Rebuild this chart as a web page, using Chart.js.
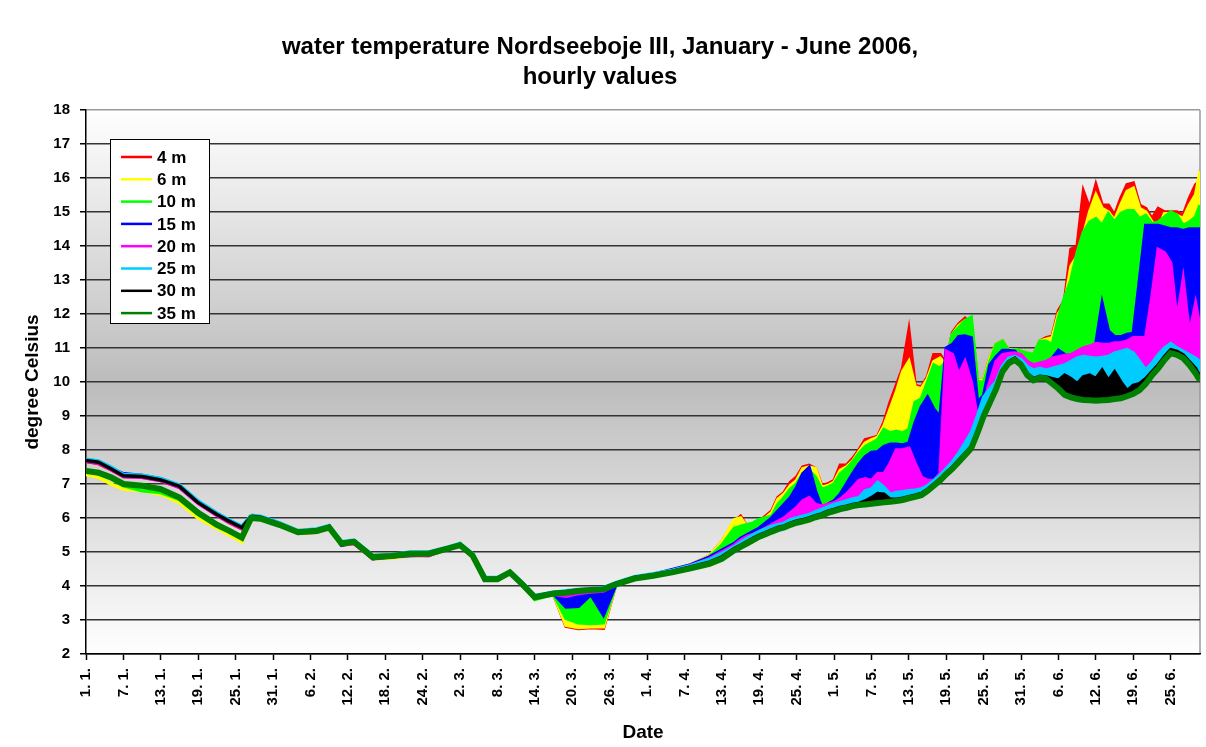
<!DOCTYPE html>
<html lang="en">
<head>
    <meta charset="UTF-8">
    <title>water temperature Nordseeboje III</title>
    <script src="https://cdn.jsdelivr.net/npm/chart.js"></script>
    <style>
        body { margin: 0; background: #fff; }
        #wrap { width: 1206px; height: 747px; position: relative; }
    </style>
</head>
<body>
    <div id="wrap"><canvas id="tempChart"></canvas></div>

    <script>
        // days since 1 January 2006 (sample positions)
        var days = [0, 2, 4, 6, 9, 12, 15, 18, 21, 23, 25, 26.5, 28, 31, 34, 37, 39, 41, 43, 46, 49, 52, 55, 58, 60,
            62, 64, 66, 68, 70, 72, 75, 77, 79, 81, 83, 85, 88, 91, 94, 97, 100, 102,
            104, 105, 106, 107, 108, 109, 110, 111, 112, 113,
            114, 115, 116, 117, 118, 119, 120, 121, 122, 123,
            124, 125, 126, 127, 128, 129, 130, 131, 132, 133,
            134, 135, 136, 137, 138, 139, 140, 141, 142, 143,
            144, 145, 146, 147, 148, 149, 150, 151, 152, 153,
            154, 155, 156, 157, 158, 159, 160, 161, 162, 163,
            164, 165, 166, 167, 168, 169, 170, 171, 172, 173,
            174, 175, 176, 177, 178, 178.7];

        // temperature per depth (upper envelope of the hourly values)
        var t4 = [7.66, 7.6, 7.42, 7.22, 7.2, 7.1, 6.9, 6.44, 6.08, 5.86, 5.68, 6.02, 5.99, 5.8, 5.56, 5.58, 5.7, 5.2, 5.25, 4.8, 4.84, 4.9, 4.9, 5.1, 5.2,
            4.88, 4.2, 4.2, 4.4, 4.05, 3.66, 3.76, 2.82, 2.75, 2.78, 2.76, 4.05, 4.22, 4.32, 4.45, 4.62, 4.88, 5.3,
            5.9, 6.05, 5.75, 5.75, 5.9, 6.05, 6.2, 6.6, 6.75, 7.05,
            7.2, 7.5, 7.55, 7.45, 6.95, 7.0, 7.1, 7.55, 7.55, 7.75,
            8.0, 8.3, 8.35, 8.4, 8.8, 9.4, 9.9, 10.4, 11.5, 9.9,
            9.85, 10.15, 10.8, 10.8, 10.5, 11.45, 11.7, 11.87, 11.7, 10.05,
            10.05, 10.7, 11.1, 11.2, 10.95, 10.95, 10.9, 10.85, 10.8, 11.2,
            11.3, 11.35, 12.1, 12.4, 13.9, 14.0, 15.6, 15.1, 15.8, 15.2,
            15.2, 14.9, 15.4, 15.8, 15.85, 15.2, 15.1, 14.8, 15.1, 15.0,
            15.0, 15.0, 14.9, 15.4, 15.8, 15.9];
        var t6 = [7.28, 7.2, 7.0, 6.85, 6.8, 6.7, 6.45, 6.0, 5.7, 5.5, 5.3, 5.96, 5.96, 5.78, 5.55, 5.58, 5.68, 5.2, 5.25, 4.8, 4.82, 4.9, 4.92, 5.1, 5.22,
            4.88, 4.2, 4.2, 4.4, 4.05, 3.65, 3.76, 2.85, 2.78, 2.8, 2.8, 4.05, 4.22, 4.32, 4.45, 4.62, 4.88, 5.3,
            5.95, 6.0, 5.75, 5.7, 5.9, 6.0, 6.15, 6.55, 6.7, 6.95,
            7.1, 7.45, 7.5, 7.45, 6.9, 6.95, 7.05, 7.4, 7.5, 7.68,
            7.95, 8.2, 8.3, 8.37, 8.7, 9.2, 9.7, 10.3, 10.6, 9.85,
            9.8, 10.1, 10.6, 10.7, 10.5, 11.4, 11.65, 11.8, 11.7, 10.05,
            10.05, 10.7, 11.1, 11.2, 10.95, 10.95, 10.9, 10.85, 10.8, 11.2,
            11.25, 11.3, 12.0, 12.3, 13.4, 13.7, 14.3, 15.0, 15.5, 15.1,
            15.0, 14.75, 15.2, 15.6, 15.7, 15.1, 15.0, 14.7, 14.5, 14.95,
            14.95, 14.9, 14.8, 15.2, 15.5, 16.2];
        var t10 = [7.4, 7.3, 7.15, 6.95, 6.8, 6.75, 6.55, 6.1, 5.78, 5.6, 5.4, 5.98, 5.97, 5.79, 5.57, 5.6, 5.7, 5.22, 5.28, 4.82, 4.85, 4.92, 4.93, 5.1, 5.25,
            4.9, 4.2, 4.2, 4.4, 4.05, 3.6, 3.76, 3.05, 2.92, 2.9, 2.92, 4.05, 4.22, 4.32, 4.45, 4.6, 4.85, 5.2,
            5.7, 5.75, 5.8, 5.85, 5.95, 6.0, 6.05, 6.4, 6.6, 6.85,
            7.0, 7.3, 7.4, 7.2, 6.85, 6.9, 7.0, 7.3, 7.45, 7.65,
            7.9, 8.1, 8.2, 8.3, 8.6, 8.5, 8.55, 8.5, 8.6, 9.4,
            9.5, 10.0, 10.5, 10.4, 10.6, 11.4, 11.6, 11.8, 11.9, 10.0,
            10.0, 10.6, 11.1, 11.2, 10.93, 10.95, 10.9, 10.85, 10.8, 11.2,
            11.2, 11.1, 11.9, 12.5, 13.0, 13.8, 14.4, 14.7, 14.8, 14.6,
            14.94, 14.7, 14.95, 15.04, 15.04, 14.8, 14.9, 14.65, 14.7, 14.85,
            15.0, 14.9, 14.6, 14.7, 14.85, 15.2];
        var t15 = [7.68, 7.63, 7.46, 7.3, 7.25, 7.15, 6.95, 6.47, 6.12, 5.9, 5.72, 6.04, 6.01, 5.81, 5.6, 5.62, 5.74, 5.2, 5.28, 4.8, 4.86, 4.9, 4.92, 5.1, 5.2,
            4.9, 4.2, 4.2, 4.4, 4.05, 3.68, 3.78, 3.38, 3.4, 3.75, 3.15, 4.05, 4.24, 4.34, 4.48, 4.62, 4.85, 5.05,
            5.25, 5.4, 5.5, 5.6, 5.7, 5.85, 6.0, 6.2, 6.4, 6.6,
            6.9, 7.3, 7.48, 6.8, 6.3, 6.4, 6.5, 6.7, 7.0, 7.3,
            7.58, 7.8, 7.93, 7.95, 8.1, 8.17, 8.17, 8.15, 8.2, 8.8,
            9.26, 9.55, 9.2, 8.96, 11.0, 11.1, 11.33, 11.35, 11.3, 9.4,
            9.6, 10.5, 10.74, 10.93, 10.93, 10.9, 10.6, 10.4, 10.35, 10.38,
            10.4, 10.7, 10.93, 10.8, 10.74, 10.8, 10.9, 11.0, 11.13, 12.3,
            11.5, 11.33, 11.33, 11.4, 11.43, 13.0, 14.6, 14.6, 14.6, 14.55,
            14.5, 14.5, 14.45, 14.5, 14.5, 14.5];
        var t20 = [7.67, 7.62, 7.43, 7.22, 7.2, 7.1, 6.9, 6.43, 6.08, 5.88, 5.7, 6.03, 6.0, 5.8, 5.58, 5.6, 5.72, 5.22, 5.25, 4.82, 4.85, 4.92, 4.9, 5.1, 5.18,
            4.88, 4.2, 4.2, 4.38, 4.03, 3.66, 3.76, 3.7, 3.78, 3.82, 3.85, 4.05, 4.23, 4.32, 4.45, 4.6, 4.8, 5.0,
            5.2, 5.35, 5.45, 5.52, 5.6, 5.7, 5.8, 5.9, 6.0, 6.15,
            6.3, 6.5, 6.6, 6.4, 6.35, 6.4, 6.45, 6.55, 6.7, 6.9,
            7.1, 7.15, 7.1, 7.3, 7.3, 7.6, 8.0, 8.0, 8.05, 7.6,
            7.2, 7.1, 7.1, 7.3, 10.9, 10.8, 10.2, 10.6, 10.0, 8.9,
            9.4, 10.0, 10.6, 10.8, 10.84, 10.85, 10.8, 10.6, 10.5, 10.55,
            10.6, 10.7, 10.74, 10.78, 10.8, 10.9, 11.0, 11.05, 11.13, 11.1,
            11.1, 11.15, 11.15, 11.2, 11.3, 11.3, 11.3, 12.5, 13.9, 13.8,
            13.5, 11.8, 13.0, 11.4, 12.3, 11.6];
        var t25 = [7.73, 7.68, 7.5, 7.28, 7.26, 7.16, 6.97, 6.5, 6.15, 5.94, 5.76, 6.08, 6.05, 5.86, 5.63, 5.68, 5.78, 5.3, 5.35, 4.9, 4.93, 5.0, 5.0, 5.14, 5.25,
            4.95, 4.25, 4.25, 4.44, 4.1, 3.72, 3.82, 3.86, 3.9, 3.92, 3.95, 4.1, 4.27, 4.36, 4.46, 4.6, 4.78, 4.95,
            5.15, 5.28, 5.4, 5.5, 5.6, 5.68, 5.75, 5.8, 5.85, 5.95,
            6.0, 6.05, 6.1, 6.18, 6.25, 6.33, 6.4, 6.45, 6.5, 6.56,
            6.6, 6.8, 6.85, 7.05, 6.9, 6.7, 6.75, 6.77, 6.8, 6.82,
            6.85, 6.95, 7.1, 7.25, 7.45, 7.65, 7.9, 8.2, 8.5, 9.0,
            9.55, 9.8, 10.0, 10.45, 10.7, 10.75, 10.65, 10.45, 10.35, 10.4,
            10.35, 10.4, 10.45, 10.5, 10.6, 10.7, 10.75, 10.72, 10.7, 10.72,
            10.75, 10.85, 10.9, 10.95, 10.85, 10.6, 10.35, 10.55, 10.8, 11.0,
            11.13, 11.0, 10.9, 10.8, 10.7, 10.6];
        var t30 = [7.69, 7.64, 7.45, 7.24, 7.22, 7.12, 6.93, 6.45, 6.1, 5.9, 5.72, 6.05, 6.02, 5.83, 5.6, 5.65, 5.75, 5.28, 5.32, 4.88, 4.9, 4.97, 4.98, 5.12, 5.22,
            4.92, 4.22, 4.22, 4.42, 4.07, 3.7, 3.8, 3.83, 3.88, 3.9, 3.93, 4.08, 4.25, 4.33, 4.43, 4.56, 4.7, 4.86,
            5.1, 5.2, 5.3, 5.4, 5.5, 5.57, 5.65, 5.72, 5.77, 5.85,
            5.91, 5.95, 6.0, 6.07, 6.12, 6.2, 6.25, 6.31, 6.35, 6.4,
            6.43, 6.5, 6.6, 6.72, 6.7, 6.55, 6.55, 6.58, 6.63, 6.67,
            6.72, 6.85, 7.0, 7.15, 7.34, 7.5, 7.7, 7.9, 8.1, 8.55,
            9.05, 9.45, 9.85, 10.35, 10.6, 10.7, 10.55, 10.25, 10.1, 10.17,
            10.15, 10.1, 10.05, 10.2, 10.1, 9.95, 10.15, 10.2, 10.1, 10.35,
            10.05, 10.3, 10.0, 9.75, 9.9, 9.95, 10.1, 10.3, 10.5, 10.75,
            10.95, 10.9, 10.8, 10.6, 10.4, 10.15];
        var t35 = [7.38, 7.33, 7.2, 7.0, 6.95, 6.85, 6.6, 6.15, 5.8, 5.62, 5.42, 6.0, 5.98, 5.8, 5.58, 5.62, 5.72, 5.25, 5.3, 4.85, 4.88, 4.95, 4.95, 5.1, 5.2,
            4.9, 4.2, 4.2, 4.4, 4.05, 3.67, 3.78, 3.8, 3.85, 3.88, 3.9, 4.05, 4.22, 4.3, 4.4, 4.52, 4.65, 4.8,
            5.05, 5.15, 5.25, 5.35, 5.45, 5.52, 5.6, 5.67, 5.72, 5.8,
            5.86, 5.9, 5.95, 6.02, 6.07, 6.15, 6.2, 6.26, 6.3, 6.35,
            6.38, 6.4, 6.42, 6.44, 6.46, 6.48, 6.5, 6.53, 6.58, 6.62,
            6.67, 6.8, 6.95, 7.1, 7.29, 7.45, 7.65, 7.85, 8.05, 8.5,
            9.0, 9.4, 9.8, 10.3, 10.55, 10.65, 10.5, 10.2, 10.05, 10.12,
            10.1, 9.95, 9.8, 9.62, 9.55, 9.5, 9.47, 9.46, 9.45, 9.46,
            9.47, 9.5, 9.52, 9.58, 9.65, 9.76, 9.95, 10.2, 10.4, 10.65,
            10.85, 10.8, 10.7, 10.5, 10.25, 10.05];

        var depths = ['4 m', '6 m', '10 m', '15 m', '20 m', '25 m', '30 m', '35 m'];
        var colors = ['#ff0000', '#ffff00', '#00ff00', '#0000ff', '#ff00ff', '#00ccff', '#000000', '#008000'];
        var seriesValues = [t4, t6, t10, t15, t20, t25, t30, t35];

        var tickDays = [0, 6, 12, 18, 24, 30, 36, 42, 48, 54, 60, 66, 72, 78, 84, 90, 96, 102, 108, 114,
            120, 126, 132, 138, 144, 150, 156, 162, 168, 174];
        var tickLabels = ['1. 1.', '7. 1.', '13. 1.', '19. 1.', '25. 1.', '31. 1.', '6. 2.', '12. 2.', '18. 2.', '24. 2.',
            '2. 3.', '8. 3.', '14. 3.', '20. 3.', '26. 3.', '1. 4.', '7. 4.', '13. 4.', '19. 4.', '25. 4.',
            '1. 5.', '7. 5.', '13. 5.', '19. 5.', '25. 5.', '31. 5.', '6. 6.', '12. 6.', '19. 6.', '25. 6.'];

        var janMerge = 26.5;   // before this the two January bands are separate, no fill
        var floorIndex = 7;    // 35 m series, the other depths fill towards it
        var fontFamily = '"Liberation Sans", Arial, sans-serif';

        // gradient plot background + grey right border
        var plotBackground = {
            id: 'plotBackground',
            beforeDraw: function (chart) {
                var ctx = chart.ctx, a = chart.chartArea;
                var g = ctx.createLinearGradient(0, a.top, 0, a.bottom);
                g.addColorStop(0, '#ffffff');
                g.addColorStop(0.5, '#bcbcbc');
                g.addColorStop(1, '#ffffff');
                ctx.save();
                ctx.fillStyle = g;
                ctx.fillRect(a.left, a.top, a.right - a.left, a.bottom - a.top);
                ctx.strokeStyle = '#9a9a9a';
                ctx.lineWidth = 1.5;
                ctx.beginPath();
                ctx.moveTo(a.right, a.top);
                ctx.lineTo(a.right, a.bottom);
                ctx.stroke();
                ctx.restore();
            }
        };

        // boxed legend inside the plot area
        var boxLegend = {
            id: 'boxLegend',
            afterDraw: function (chart) {
                var ctx = chart.ctx, a = chart.chartArea;
                var x = a.left + 24, y = a.top + 29, w = 99, h = 184;
                ctx.save();
                ctx.fillStyle = '#ffffff';
                ctx.fillRect(x, y, w, h);
                ctx.strokeStyle = '#000000';
                ctx.lineWidth = 1;
                ctx.strokeRect(x + 0.5, y + 0.5, w, h);
                ctx.font = 'bold 17px ' + fontFamily;
                ctx.textBaseline = 'middle';
                depths.forEach(function (label, i) {
                    var cy = y + 18 + i * 22.3;
                    ctx.strokeStyle = colors[i];
                    ctx.lineWidth = 2.5;
                    ctx.beginPath();
                    ctx.moveTo(x + 11, cy);
                    ctx.lineTo(x + 42, cy);
                    ctx.stroke();
                    ctx.fillStyle = '#000000';
                    ctx.fillText(label, x + 47, cy + 1);
                });
                ctx.restore();
            }
        };

        var datasets = seriesValues.map(function (vals, i) {
            var col = colors[i];
            var isFloor = i === floorIndex;
            var ds = {
                label: depths[i],
                data: days.map(function (d, k) { return { x: d, y: vals[k] }; }),
                borderColor: col,
                backgroundColor: col,
                borderWidth: isFloor ? 6 : 3.5,
                pointRadius: 0,
                tension: 0,
                order: seriesValues.length - i,   // deeper depths drawn on top
                fill: isFloor ? false : floorIndex
            };
            if (!isFloor) {
                ds.segment = {
                    backgroundColor: function (c) {
                        return c.p1.parsed.x <= janMerge ? 'rgba(0,0,0,0)' : col;
                    }
                };
            }
            return ds;
        });

        var ctx = document.getElementById('tempChart').getContext('2d');
        var tempChart = new Chart(ctx, {
            type: 'line',
            data: { datasets: datasets },
            plugins: [plotBackground, boxLegend],
            options: {
                responsive: true,
                maintainAspectRatio: false,
                animation: false,
                events: [],
                layout: { padding: { left: 0, right: 6, top: 0, bottom: 0 } },
                plugins: {
                    legend: { display: false },
                    tooltip: { enabled: false },
                    title: {
                        display: true,
                        text: ['water temperature Nordseeboje III, January - June 2006,', 'hourly values'],
                        color: '#000',
                        font: { family: fontFamily, size: 24, weight: 'bold', lineHeight: 1.25 },
                        padding: { top: 32, bottom: 18 }
                    }
                },
                scales: {
                    x: {
                        type: 'linear',
                        min: 0,
                        max: 178.7,
                        afterBuildTicks: function (scale) {
                            scale.ticks = tickDays.map(function (v) { return { value: v }; });
                        },
                        afterFit: function (scale) { scale.height = 93; },
                        ticks: {
                            autoSkip: false,
                            minRotation: 90,
                            maxRotation: 90,
                            padding: 8,
                            color: '#000',
                            font: { family: fontFamily, size: 15, weight: 'bold' },
                            callback: function (v, i) { return tickLabels[i]; }
                        },
                        grid: { drawOnChartArea: false, drawTicks: true, tickLength: 6, color: '#000', tickColor: '#000', tickWidth: 1.5 },
                        border: { color: '#000', width: 1.5 },
                        title: {
                            display: true,
                            text: 'Date',
                            color: '#000',
                            font: { family: fontFamily, size: 19, weight: 'bold', lineHeight: 1.2 },
                            padding: { top: 0, bottom: 3 }
                        }
                    },
                    y: {
                        min: 2,
                        max: 18,
                        afterFit: function (scale) { scale.width = 86; },
                        ticks: {
                            stepSize: 1,
                            padding: 10,
                            color: '#000',
                            font: { family: fontFamily, size: 15, weight: 'bold' }
                        },
                        grid: {
                            color: function (c) { return c.tick && c.tick.value === 18 ? '#9a9a9a' : '#333'; },
                            lineWidth: 1.5,
                            tickLength: 6,
                            tickColor: '#000'
                        },
                        border: { color: '#000', width: 1.5 },
                        title: {
                            display: true,
                            text: 'degree Celsius',
                            color: '#000',
                            font: { family: fontFamily, size: 19, weight: 'bold', lineHeight: 1.2 },
                            padding: { top: 21, bottom: 0 }
                        }
                    }
                }
            }
        });
    </script>
</body>
</html>
